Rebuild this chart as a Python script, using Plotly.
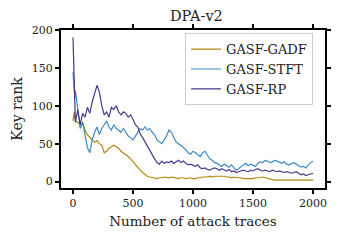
import plotly.graph_objects as go

traces = [0, 5, 10, 15] + list(range(20, 2001, 20))

gasf_rp = [190, 150, 110, 85, 78, 95, 75, 90, 85, 98, 90, 105, 115, 127, 118, 100, 88, 92, 85, 98,
           95, 100, 92, 88, 92, 90, 85, 88, 82, 75, 72, 63, 58, 52, 48, 42, 36, 30, 25, 23,
           27, 24, 26, 25, 27, 24, 26, 28, 25, 27, 24, 22, 23, 21, 20, 22, 18, 17, 18, 16,
           15, 17, 18, 17, 15, 17, 16, 14, 16, 13, 14, 12, 13, 14, 15, 14, 13, 15, 14, 16,
           17, 15, 14, 15, 14, 13, 15, 14, 13, 14, 13, 12, 13, 12, 11, 12, 13, 11, 9, 10,
           8, 9, 10, 11]

gasf_stft = [145, 135, 125, 110, 120, 95, 70, 78, 60, 45, 38, 55, 65, 72, 62, 70, 75, 80, 72, 68,
             75, 70, 68, 65, 70, 65, 60, 58, 55, 60, 65, 70, 68, 72, 68, 70, 65, 62, 55, 52,
             50, 55, 60, 68, 65, 58, 52, 50, 48, 45, 42, 38, 36, 40, 38, 35, 33, 38, 40, 35,
             30, 28, 25, 24, 22, 20, 23, 21, 19, 22, 18, 15, 17, 20, 22, 24, 21, 23, 22, 20,
             24, 26, 25, 28, 27, 25, 26, 28, 27, 25, 24, 26, 23, 22, 24, 25, 23, 21, 19, 20,
             18, 22, 24, 27]

gasf_gadf = [80, 88, 92, 85, 80, 78, 75, 78, 68, 62, 58, 55, 52, 54, 50, 48, 38, 40, 44, 46,
             48, 46, 44, 40, 38, 35, 33, 30, 26, 22, 18, 15, 12, 9, 7, 6, 5, 4, 4, 5,
             5, 6, 5, 5, 6, 5, 5, 4, 5, 5, 4, 5, 5, 4, 4, 5, 5, 6, 6, 6,
             7, 6, 7, 7, 8, 8, 7, 6, 6, 5, 6, 5, 5, 5, 4, 4, 4, 4, 4, 5,
             5, 5, 6, 5, 4, 3, 3, 2, 2, 2, 3, 3, 3, 3, 3, 3, 3, 3, 3, 3,
             2, 2, 2, 2]

x_ticks = [0, 500, 1000, 1500, 2000]
y_ticks = [0, 50, 100, 150, 200]

FONT = "DejaVu Serif"
TXT = "#222222"
FRAME = "#000000"

fig = go.Figure()
fig.add_trace(go.Scatter(x=traces, y=gasf_gadf, mode="lines", name="GASF-GADF",
                         line=dict(color="#B8860B", width=1.2)))
fig.add_trace(go.Scatter(x=traces, y=gasf_stft, mode="lines", name="GASF-STFT",
                         line=dict(color="#3F8AC4", width=1.2)))
fig.add_trace(go.Scatter(x=traces, y=gasf_rp, mode="lines", name="GASF-RP",
                         line=dict(color="#483A8E", width=1.2)))

axis_common = dict(showline=True, linecolor=FRAME, linewidth=2, mirror="allticks",
                   ticks="outside", ticklen=4, tickwidth=1.5, tickcolor=FRAME,
                   showgrid=False, zeroline=False, automargin=False,
                   tickfont=dict(family=FONT, size=11, color=TXT))

fig.update_layout(
    width=332, height=232,
    margin=dict(l=53, r=15, t=22, b=52, autoexpand=False),
    paper_bgcolor="white", plot_bgcolor="white",
    title=dict(text="DPA-v2", x=0.5675, xanchor="center", y=0.965, yanchor="middle",
               font=dict(family=FONT, size=14.5, color=TXT)),
    xaxis=dict(range=[-100, 2100], tickvals=x_ticks,
               title=dict(text="Number of attack traces", font=dict(family=FONT, size=13.5, color=TXT),
                          standoff=7),
               **axis_common),
    yaxis=dict(range=[-8.5, 200], tickvals=y_ticks,
               title=dict(text="Key rank", font=dict(family=FONT, size=14, color=TXT),
                          standoff=6),
               **axis_common),
    legend=dict(x=0.47, y=0.98, xanchor="left", yanchor="top",
                bgcolor="rgba(255,255,255,0.85)", bordercolor="#CCCCCC", borderwidth=1,
                font=dict(family=FONT, size=13, color=TXT),
                tracegroupgap=0, itemwidth=30),
    showlegend=True,
)

fig.write_html("out.html")
